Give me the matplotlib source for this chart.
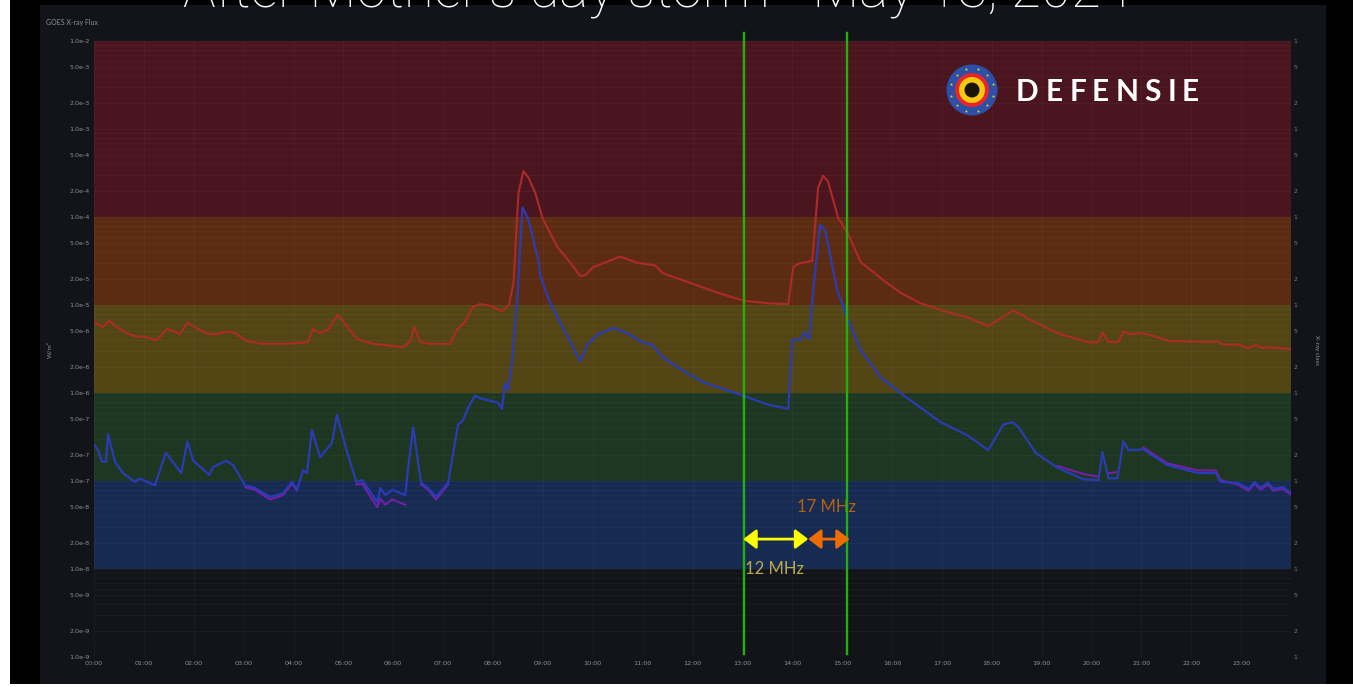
import matplotlib
matplotlib.use('Agg')
import matplotlib.pyplot as plt
from matplotlib.patches import Circle, Rectangle
import numpy as np

long_hours = [0.02, 0.18, 0.30, 0.46, 0.66, 0.86, 1.02, 1.24, 1.36, 1.46, 1.73, 1.87, 2.07, 2.29, 2.47, 2.67, 2.83,
              3.07, 3.39, 3.87, 4.13, 4.29, 4.39, 4.53, 4.69, 4.89, 5.08, 5.28, 5.60, 6.20, 6.34, 6.42, 6.54, 6.74,
              7.14, 7.28, 7.44, 7.60, 7.74, 7.94, 8.18, 8.32, 8.41, 8.51, 8.61, 8.71, 8.85, 8.99, 9.29, 9.55, 9.75,
              9.85, 10.01, 10.55, 10.89, 11.25, 11.41, 11.96, 12.50, 13.02, 13.50, 13.92, 14.02, 14.12, 14.40, 14.52,
              14.62, 14.72, 14.92, 15.11, 15.37, 15.83, 16.17, 16.57, 17.11, 17.51, 17.93, 18.13, 18.43, 18.78, 19.32,
              19.98, 20.14, 20.22, 20.34, 20.54, 20.64, 20.78, 21.04, 21.58, 22.53, 22.65, 22.93, 23.15, 23.29, 23.43,
              23.55, 23.99]
long_log = [-5.20, -5.25, -5.18, -5.25, -5.32, -5.36, -5.36, -5.40, -5.34, -5.27, -5.33, -5.20, -5.27, -5.33, -5.33,
            -5.30, -5.32, -5.41, -5.44, -5.44, -5.43, -5.42, -5.27, -5.32, -5.28, -5.11, -5.25, -5.39, -5.44, -5.48,
            -5.41, -5.25, -5.42, -5.44, -5.44, -5.28, -5.19, -5.02, -4.99, -5.01, -5.07, -5.00, -4.75, -3.73, -3.48,
            -3.55, -3.73, -4.01, -4.34, -4.52, -4.67, -4.66, -4.57, -4.45, -4.52, -4.55, -4.64, -4.75, -4.86, -4.95,
            -4.98, -4.99, -4.57, -4.53, -4.50, -3.66, -3.53, -3.60, -4.01, -4.18, -4.51, -4.72, -4.86, -4.98, -5.08,
            -5.14, -5.24, -5.17, -5.06, -5.17, -5.32, -5.43, -5.42, -5.31, -5.42, -5.42, -5.30, -5.33, -5.32, -5.41,
            -5.42, -5.45, -5.45, -5.49, -5.45, -5.49, -5.48, -5.50]

short_hours = [0.02, 0.08, 0.16, 0.24, 0.28, 0.42, 0.58, 0.82, 0.92, 1.22, 1.44, 1.75, 1.87, 1.99, 2.31, 2.39, 2.65,
               2.79, 3.03, 3.23, 3.53, 3.79, 3.97, 4.07, 4.19, 4.27, 4.37, 4.53, 4.77, 4.87, 5.08, 5.26, 5.38, 5.68,
               5.74, 5.84, 5.98, 6.24, 6.30, 6.40, 6.50, 6.56, 6.70, 6.86, 7.10, 7.30, 7.40, 7.50, 7.64, 7.74, 8.10,
               8.18, 8.24, 8.30, 8.38, 8.49, 8.59, 8.71, 8.91, 8.95, 9.15, 9.75, 9.89, 10.09, 10.41, 10.69, 11.01,
               11.19, 11.39, 11.76, 12.22, 13.02, 13.50, 13.92, 14.00, 14.10, 14.16, 14.24, 14.34, 14.42, 14.56, 14.66,
               14.90, 15.11, 15.37, 15.77, 16.17, 16.97, 17.51, 17.93, 18.23, 18.41, 18.54, 18.88, 19.32, 19.84, 20.14,
               20.22, 20.34, 20.52, 20.64, 20.74, 21.04, 21.52, 22.13, 22.49, 22.59, 22.93, 23.15, 23.27, 23.39, 23.53,
               23.65, 23.83, 23.99]
short_log = [-6.60, -6.65, -6.78, -6.78, -6.47, -6.78, -6.91, -7.01, -6.97, -7.05, -6.68, -6.91, -6.55, -6.77, -6.93,
             -6.84, -6.77, -6.82, -7.05, -7.08, -7.18, -7.14, -7.01, -7.10, -6.88, -6.91, -6.42, -6.73, -6.57, -6.25,
             -6.68, -7.01, -6.99, -7.24, -7.08, -7.16, -7.10, -7.16, -6.84, -6.39, -6.80, -7.02, -7.08, -7.18, -7.02,
             -6.36, -6.31, -6.17, -6.03, -6.06, -6.11, -6.18, -5.89, -5.97, -5.66, -4.91, -3.89, -4.03, -4.49, -4.68,
             -4.98, -5.64, -5.45, -5.34, -5.26, -5.32, -5.43, -5.45, -5.59, -5.73, -5.88, -6.03, -6.13, -6.18, -5.40,
             -5.39, -5.40, -5.31, -5.39, -4.83, -4.09, -4.15, -4.83, -5.15, -5.51, -5.82, -6.00, -6.33, -6.48, -6.65,
             -6.36, -6.33, -6.39, -6.68, -6.85, -6.98, -6.99, -6.67, -6.97, -6.97, -6.55, -6.65, -6.64, -6.82, -6.91,
             -6.91, -7.01, -7.02, -7.09, -7.01, -7.08, -7.02, -7.09, -7.07, -7.13]

# second short channel, only where it shows from under the blue one
purple_hours = [3.03, 3.23, 3.53, 3.79, 3.97, 4.07, np.nan,
                5.26, 5.38, 5.68, 5.74, 5.84, 5.98, 6.24, np.nan,
                6.56, 6.70, 6.86, 7.10, np.nan,
                19.32, 19.84, 20.14, np.nan,
                20.34, 20.52, np.nan,
                21.04, 21.52, 22.13, 22.49, 22.59, 22.93, 23.15, 23.27, 23.39, 23.53, 23.65, 23.83, 23.99]
purple_log = [-7.07, -7.10, -7.21, -7.16, -7.03, -7.11, np.nan,
              -7.04, -7.03, -7.30, -7.20, -7.27, -7.21, -7.27, np.nan,
              -7.04, -7.10, -7.21, -7.04, np.nan,
              -6.83, -6.92, -6.95, np.nan,
              -6.91, -6.90, np.nan,
              -6.62, -6.80, -6.88, -6.88, -6.99, -7.04, -7.11, -7.03, -7.10, -7.04, -7.11, -7.09, -7.15]

band_edges = [1e-8, 1e-7, 1e-6, 1e-5, 1e-4, 1e-2]
band_colors = ['#162a52', '#1e3722', '#544614', '#5c2c12', '#4a151f']
hour_labels = ['%02d:00' % h for h in range(24)]
ytick_values = [m * 10.0 ** e for e in range(-9, -2) for m in (1, 2, 5)] + [1e-2]
ytick_labels = ['%d.0e%d' % (m, e) for e in range(-9, -2) for m in (1, 2, 5)] + ['1.0e-2']
right_labels = ['%d' % m for e in range(-9, -2) for m in (1, 2, 5)] + ['1']
marker_hours = [13.04, 15.09]
arrow_12 = [13.02, 14.32]
arrow_17 = [14.32, 15.15]
arrow_log = -7.66

W, H = 1353, 687
FONT = 'Lato'
THIN_FONT = 'Roboto'
PANEL = '#12141a'

fig = plt.figure(figsize=(W / 100, H / 100), dpi=100, facecolor='black')

# slide background, in pixels
bg = fig.add_axes([0, 0, 1, 1], zorder=0)
bg.set_xlim(0, W)
bg.set_ylim(H, 0)
bg.axis('off')
bg.add_patch(Rectangle((0, 0), 10, H, fc='white', ec='none'))
bg.add_patch(Rectangle((0, 684), W, 3, fc='white', ec='none'))
bg.add_patch(Rectangle((40, 5), 1286, 679, fc=PANEL, ec='none'))

ax = fig.add_axes([94 / W, 1 - 657 / H, (1291 - 94) / W, (657 - 41) / H], zorder=1)
ax.set_facecolor('none')
ax.set_yscale('log')
ax.set_xlim(0, 24)
ax.set_ylim(1e-9, 1e-2)

for i, c in enumerate(band_colors):
    ax.axhspan(band_edges[i], band_edges[i + 1], fc=c, ec='none', zorder=0)

ax.set_xticks(range(24))
ax.set_xticklabels(hour_labels, fontsize=4.6, color='#8f9096')
ax.set_yticks(ytick_values)
ax.set_yticklabels(ytick_labels, fontsize=4.6, color='#8f9096')
ax.yaxis.set_minor_locator(matplotlib.ticker.LogLocator(base=10, subs=range(1, 10), numticks=12))
ax.yaxis.set_minor_formatter(matplotlib.ticker.NullFormatter())
ax.tick_params(which='both', length=0, pad=3)
ax.grid(True, which='both', color='white', alpha=0.03, lw=0.7)
ax.set_axisbelow(False)
for s in ax.spines.values():
    s.set_visible(False)

ax.plot(long_hours, 10.0 ** np.array(long_log), color='#ad2b26', lw=1.5, zorder=3)
ax.plot(purple_hours, 10.0 ** np.array(purple_log), color='#7420a6', lw=1.5, zorder=3)
ax.plot(short_hours, 10.0 ** np.array(short_log), color='#2a3cb4', lw=1.6, zorder=4)

# green markers run a little past the plot top
trans = ax.get_xaxis_transform()
for h in marker_hours:
    ax.plot([h, h], [0.005, 1.013], transform=trans, color='#22b10c', lw=1.7, clip_on=False, zorder=5)

y_arrow = 10.0 ** arrow_log
ax.annotate('', xy=(arrow_12[0], y_arrow), xytext=(arrow_12[1], y_arrow), zorder=6,
            arrowprops=dict(arrowstyle='<|-|>,head_length=0.55,head_width=0.42', color='#ffff00', lw=2,
                            shrinkA=0, shrinkB=0, mutation_scale=14))
ax.annotate('', xy=(arrow_17[0], y_arrow), xytext=(arrow_17[1], y_arrow), zorder=6,
            arrowprops=dict(arrowstyle='<|-|>,head_length=0.55,head_width=0.42', color='#ee6c00', lw=2,
                            shrinkA=0, shrinkB=0, mutation_scale=14))

# right hand axis, only faint single marks
ax2 = ax.twinx()
ax2.set_yscale('log')
ax2.set_ylim(1e-9, 1e-2)
ax2.set_yticks(ytick_values)
ax2.set_yticklabels(right_labels, fontsize=4.4, color='#77787e')
ax2.yaxis.set_minor_formatter(matplotlib.ticker.NullFormatter())
ax2.tick_params(which='both', length=0, pad=2)
for s in ax2.spines.values():
    s.set_visible(False)


def px_text(x, y, s, **kw):
    return fig.text(x / W, 1 - y / H, s, **kw)


px_text(46, 22, 'GOES X-ray Flux', fontsize=5, color='#8f9096', va='center', family=FONT)
px_text(50, 350, 'W/m²', fontsize=4.6, color='#8f9096', va='center', ha='center', rotation=90, family=FONT)
px_text(1316, 350, 'X-ray class', fontsize=4.6, color='#8f9096', va='center', ha='center', rotation=270, family=FONT)
px_text(657, 6, "After Mother's day storm - May 13, 2024", fontsize=39.4, color='white', ha='center',
        va='baseline', family=THIN_FONT, weight='light', zorder=10)
ax.text(13.06, 10.0 ** -8.0, '12 MHz', fontsize=12, color='#b9ab4c', va='center', family=FONT)
ax.text(14.1, 10.0 ** -7.3, '17 MHz', fontsize=12, color='#b5620f', va='center', family=FONT)

# logo, also in pixels
top = fig.add_axes([0, 0, 1, 1], zorder=5)
top.set_xlim(0, W)
top.set_ylim(H, 0)
top.axis('off')
cx, cy = 972, 90
for r, c in [(25.5, '#2c50a8'), (17, '#e8262a'), (13, '#f5c90f'), (7.5, '#1a1408')]:
    top.add_patch(Circle((cx, cy), r, fc=c, ec='none'))
star_angles = np.deg2rad(np.arange(0, 360, 30) + 15)
top.scatter(cx + 21.5 * np.cos(star_angles), cy + 21.5 * np.sin(star_angles), marker='*', s=6, color='#f2d21a', lw=0)

for x, letter in zip([1016, 1046, 1070, 1092, 1116, 1144, 1168, 1182], 'DEFENSIE'):
    px_text(x, 101, letter, fontsize=21.5, color='white', va='baseline', family=FONT, weight='bold', zorder=10)

fig.savefig('out.png', dpi=100, facecolor=fig.get_facecolor())
